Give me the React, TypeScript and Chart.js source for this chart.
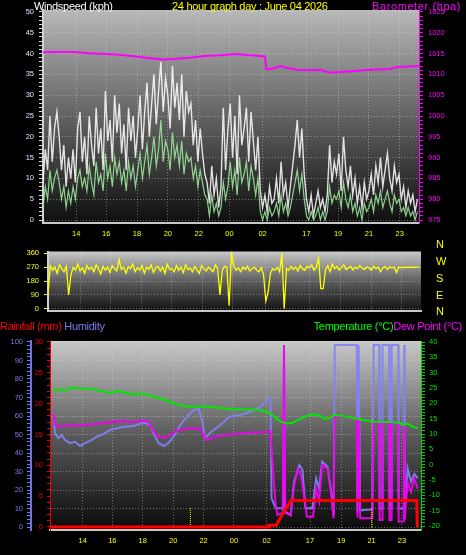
import React, { useEffect, useRef } from 'react';
import { Chart, registerables } from 'chart.js';

Chart.register(...registerables);

const FONT = "'Liberation Sans', Arial, sans-serif";

// ---------- axis ticks (hours since start of window) ----------
const tickHours = [2.15, 4.1, 6.1, 8.1, 10.1, 12.1, 14.25, 17.1, 19.15, 21.15, 23.15];
const tickLabels = ['14', '16', '18', '20', '22', '00', '02', '17', '19', '21', '23'];
const X_MAX = 24.4;

// ---------- wind (kph), one sample every windStep hours ----------
const windStep = 0.15;
const windGust = [
  9, 17, 12, 25, 14, 22, 26,
  20, 12, 18, 8, 15, 10, 17, 9, 22,
  26, 14, 20, 11, 25, 18, 13, 27, 16, 22, 12,
  31, 19, 24, 14, 30, 21, 28, 16, 23, 12, 27, 19, 25, 15,
  22, 30, 17, 26, 33, 20,
  28, 35, 23, 31, 38, 26, 34,
  30, 22, 37, 27, 33, 24, 35, 20, 31, 26,
  28, 18, 24, 14, 22, 16, 11,
  9, 4, 13, 6, 10,
  3, 8, 27, 12, 22,
  28, 15, 25, 11, 30, 18, 22, 27, 14, 26, 19, 12, 20,
  7, 3, 6, 2, 8, 4, 5,
  10, 4, 14, 6, 9, 3,
  8, 13, 18, 24, 15, 22, 11,
  5, 2, 6, 1, 4, 7, 3, 5, 2, 6,
  18, 9, 14, 11, 16, 7, 20, 12, 8, 13,
  6, 10, 4, 8, 3, 9, 5, 7,
  11, 6, 13, 9, 15, 8, 12, 16, 10, 7, 13, 9, 11,
  5, 8, 3, 7, 4, 6, 2, 5,
];
const windAvg = [
  3, 8, 5, 12, 7, 10, 12,
  9, 5, 8, 3, 7, 4, 8, 5, 10,
  12, 8, 10, 7, 13, 9, 6, 14, 9, 11, 7,
  16, 10, 13, 8, 15, 11, 14, 9, 12, 7, 14, 10, 13, 8,
  12, 16, 10, 14, 18, 11,
  15, 20, 13, 17, 24, 14, 19,
  17, 12, 21, 15, 18, 13, 19, 11, 16, 14,
  15, 10, 13, 8, 12, 9, 6,
  5, 1, 6, 2, 4,
  1, 3, 9, 5, 8,
  14, 8, 12, 6, 15, 9, 11, 14, 7, 13, 10, 6, 10,
  2, 0, 2, 0, 3, 1, 2,
  4, 1, 6, 2, 4, 1,
  3, 6, 9, 12, 7, 11, 5,
  1, 0, 2, 0, 1, 3, 0, 2, 0, 2,
  8, 4, 6, 5, 7, 3, 9, 5, 3, 6,
  2, 4, 1, 3, 0, 4, 2, 3,
  5, 2, 6, 4, 7, 3, 5, 7, 4, 2, 6, 4, 5,
  2, 3, 1, 3, 1, 2, 0, 2,
];

// ---------- wind direction (degrees), same sampling ----------
const windDir = [
  90, 280, 250, 270, 230, 285, 260, 240, 275, 90,
  220, 270, 250, 290, 245, 265, 230, 280, 255, 270,
  240, 285, 260, 225, 275, 250, 270, 235, 280, 260,
  245, 320, 255, 270, 230, 275, 260, 290, 240, 265,
  250, 280, 230, 270, 255, 285, 235, 265, 275, 245,
  270, 230, 290, 255, 260, 240, 280, 250, 270, 235,
  285, 255, 265, 240, 275, 250, 230, 280, 260, 245,
  270, 255, 240, 285, 260, 90, 250, 275, 270, 20,
  360, 280, 250, 265, 240, 270, 255, 275, 245, 260,
  270, 250, 240, 265, 220, 50, 110, 230, 260, 250,
  270, 240, 360, 0, 260, 250, 275, 255, 270, 245,
  280, 260, 250, 275, 265, 285, 250, 270, 330, 130,
  130, 250, 280, 240, 290, 260, 275, 250, 270, 285,
  255, 265, 275, 250, 270, 260, 280, 265, 255, 270,
  265, 250, 275, 260, 270, 240, 265, 275, 255, 270,
  265, 270, 235, 270, 265, 270, 268, 270, 268, 270,
  268, 270, 270,
];

// ---------- barometer (hPa) ----------
const baroTimes = [0, 1, 2, 3, 4, 5, 6, 7, 7.8, 8.5, 9.5, 10.5, 11.5, 12.5, 13.5, 14.4, 14.5, 15.0, 15.4, 15.8, 16.5, 17.5, 18.0, 18.6, 19.3, 20.2, 21.2, 22.5, 23.0, 24.4];
const baroValues = [1015.3, 1015.4, 1015.4, 1015.1, 1014.9, 1014.7, 1014.3, 1013.9, 1013.6, 1013.7, 1014.0, 1014.4, 1014.6, 1014.9, 1014.6, 1014.3, 1011.2, 1011.5, 1012.0, 1011.6, 1011.1, 1011.0, 1011.1, 1010.4, 1010.6, 1010.8, 1011.1, 1011.3, 1011.8, 1012.0];

// ---------- temperature (°C) ----------
const tempTimes = [0.22, 0.6, 1.1, 1.32, 1.7, 2.2, 2.85, 3.3, 3.74, 3.96, 4.4, 4.8, 5.3, 5.9, 6.1, 6.6, 7.25, 7.9, 8.4, 9.0, 9.9, 10.75, 11.4, 12.1, 12.7, 13.6, 14.05, 14.5, 14.7, 15.2, 15.6, 15.95, 16.3, 16.9, 17.35, 17.8, 18.0, 18.3, 18.7, 19.4, 19.8, 20.6, 21.3, 22.4, 22.9, 23.3, 23.5, 23.9, 24.2];
const tempValues = [24.3, 24.5, 24.2, 25.2, 25.0, 24.8, 24.6, 24.0, 23.8, 23.2, 24.0, 23.8, 23.0, 23.0, 23.3, 22.5, 21.6, 20.5, 19.6, 19.0, 19.0, 18.8, 18.3, 18.0, 18.0, 17.8, 17.5, 16.7, 15.8, 14.0, 13.4, 13.7, 14.5, 15.9, 16.4, 15.9, 15.0, 15.1, 16.2, 15.7, 15.4, 14.6, 14.0, 13.9, 13.7, 13.0, 13.5, 12.2, 12.0];

// ---------- dew point (°C) ----------
const dewTimes = [0.22, 0.33, 0.66, 1.1, 1.54, 2.2, 2.86, 3.52, 4.18, 4.84, 5.5, 6.16, 6.5, 6.7, 7.04, 7.5, 7.9, 8.35, 9.0, 9.9, 10.1, 10.3, 10.9, 12.07, 13.0, 14.0, 14.5, 14.6, 14.7, 14.84, 14.95, 15.3, 15.39, 15.47, 15.83, 16.05, 16.3, 16.5, 16.7, 16.9, 17.3, 17.5, 17.7, 17.9, 18.25, 18.5, 18.65, 18.73, 20.18, 20.22, 20.3, 20.4, 21.2, 21.28, 21.65, 21.68, 21.84, 21.87, 22.3, 22.33, 22.44, 22.47, 22.9, 22.93, 23.27, 23.3, 23.33, 23.45, 23.52, 23.74, 23.96, 24.18];
const dewValues = [16.5, 12.9, 12.3, 12.9, 12.6, 12.9, 13.2, 13.6, 13.9, 14.2, 13.9, 14.4, 13.9, 11.8, 9.3, 8.7, 9.6, 11.2, 11.8, 11.8, 9.6, 8.0, 9.1, 10.0, 10.3, 10.6, 10.9, 3.2, -3.5, -13, -16.4, -15.7, 39, -15.7, -16.5, -6.7, -1.3, -3.5, -10, -17, -17, -7.8, -12, -0.2, -1.3, -10, -17.5, 15.8, 15.2, -17.2, 15.0, -17.5, -17.5, 13.8, 13.7, -18, -18, 13.7, 13.6, -18, -18, 13.6, 13.4, -18.5, -18.5, 13, -18, -10, -5.6, -8.9, -4.5, -7.8];

// ---------- humidity (%) ----------
const humTimes = [0.22, 0.33, 0.55, 0.77, 0.99, 1.32, 1.65, 1.98, 2.3, 2.64, 3.08, 3.52, 3.96, 4.4, 4.84, 5.5, 6.16, 6.6, 6.8, 7.15, 7.5, 7.8, 8.13, 8.57, 9.0, 9.45, 9.78, 10.0, 10.2, 10.5, 11.2, 11.8, 12.5, 13.2, 13.85, 14.3, 14.5, 14.57, 14.84, 15.17, 15.35, 15.39, 15.47, 15.83, 16.05, 16.4, 16.6, 16.8, 17.26, 17.5, 17.7, 17.9, 18.25, 18.5, 18.65, 18.73, 20.18, 20.22, 20.3, 20.4, 21.2, 21.28, 21.65, 21.68, 21.84, 21.87, 22.3, 22.33, 22.44, 22.47, 22.9, 22.93, 23.27, 23.3, 23.33, 23.45, 23.52, 23.74, 23.96, 24.18];
const humValues = [60.5, 50.7, 48, 49.7, 47, 45.3, 46, 43.8, 45.3, 46.6, 48.8, 50.3, 52.4, 53.3, 54.2, 54.6, 56.4, 55, 50.7, 45.3, 43.8, 45.6, 48.8, 55.1, 59.6, 63.2, 64, 57.8, 48, 50.7, 55.1, 59.6, 60.5, 62.3, 65, 68.6, 69.9, 15.5, 10.1, 10.1, 10.1, 98.4, 8.3, 6.5, 24.5, 33.5, 30.9, 10.1, 10.1, 26.3, 20.9, 35.3, 32.6, 19.1, 6.5, 98.4, 98.4, 8.3, 98.4, 9, 9.5, 98.4, 98.4, 10, 10, 98.4, 98.4, 10, 10, 98.4, 98.4, 10, 10, 98.4, 10, 20, 31.7, 24.5, 28.7, 26.3];

// ---------- rainfall (mm) ----------
const rainTimes = [0, 14.35, 14.4, 14.9, 14.95, 15.83, 24.12, 24.16];
const rainValues = [0, 0, 0.3, 0.3, 0.6, 4.3, 4.3, 0];

// ---------- day markers (yellow dotted) ----------
const markerHours = [9.23, 21.17];
const markerHeight = 3.2; // mm on the rain axis

// ---------- helpers ----------
const GRID = 'rgba(225,225,225,0.42)';
const range = (a: number, b: number, s: number) => {
  const r: number[] = [];
  for (let v = a; v <= b + 1e-9; v += s) r.push(Math.round(v * 1000) / 1000);
  return r;
};
const isMajor = (v: number, m: number) => Math.abs(v / m - Math.round(v / m)) < 1e-6;
const pairs = (xs: number[], ys: number[]) => xs.map((x, i) => ({ x, y: ys[i] }));
const sampled = (ys: number[], step: number) => ys.map((y, i) => ({ x: Math.round(i * step * 1000) / 1000, y }));

function bgPlugin(stops: [number, string][]) {
  return {
    id: 'bgGradient',
    beforeDraw(chart: any) {
      const { ctx, chartArea: a } = chart;
      ctx.save();
      ctx.fillStyle = '#000';
      ctx.fillRect(0, 0, chart.width, chart.height);
      const g = ctx.createLinearGradient(0, a.top, 0, a.bottom);
      stops.forEach(([o, c]) => g.addColorStop(o, c));
      ctx.fillStyle = g;
      ctx.fillRect(a.left, a.top, a.right - a.left, a.bottom - a.top);
      ctx.restore();
    },
  };
}

function hourAxis(height: number, showLabels: boolean, pad: number) {
  return {
    type: 'linear',
    position: 'bottom',
    min: 0,
    max: X_MAX,
    bounds: 'data',
    afterBuildTicks: (s: any) => {
      s.ticks = tickHours.map((v) => ({ value: v }));
    },
    afterFit: (s: any) => {
      s.height = height;
    },
    ticks: {
      display: showLabels,
      autoSkip: false,
      maxRotation: 0,
      minRotation: 0,
      color: '#ffff00',
      font: { size: 7.5, family: FONT },
      padding: pad,
      callback: (_v: any, i: number) => tickLabels[i],
    },
    grid: { color: GRID, drawTicks: false },
    border: { display: true, color: '#c8c8c8', width: 2, dash: [1, 2] },
  };
}

interface VA {
  pos: 'left' | 'right';
  min: number;
  max: number;
  from: number;
  to: number;
  step: number;
  major: number;
  color: string;
  tickColor: string;
  width: number;
  tickLength: number;
  pad: number;
  grid: boolean;
  borderColor: string;
  borderWidth: number;
  weight?: number;
}
function valueAxis(o: VA) {
  return {
    type: 'linear',
    position: o.pos,
    min: o.min,
    max: o.max,
    bounds: 'data',
    weight: o.weight ?? 0,
    afterBuildTicks: (s: any) => {
      s.ticks = range(o.from, o.to, o.step).map((v) => ({ value: v }));
    },
    afterFit: (s: any) => {
      s.width = o.width;
    },
    ticks: {
      autoSkip: false,
      color: o.color,
      font: { size: 7.5, family: FONT },
      padding: o.pad,
      callback: (v: number) => (isMajor(v, o.major) ? String(v) : ''),
    },
    grid: {
      drawOnChartArea: o.grid,
      color: (c: any) => (c.tick && isMajor(c.tick.value, o.major) ? GRID : 'rgba(0,0,0,0)'),
      tickColor: o.tickColor,
      tickLength: o.tickLength,
      tickWidth: 1,
    },
    border: { display: true, color: o.borderColor, width: o.borderWidth, dash: [1, 2] },
  };
}

const line = (extra: any) => ({
  type: 'line',
  pointRadius: 0,
  pointHoverRadius: 0,
  tension: 0,
  fill: false,
  ...extra,
});

const baseOptions = (padding: any, scales: any) => ({
  responsive: false,
  animation: false,
  devicePixelRatio: 1,
  events: [],
  layout: { padding, autoPadding: false },
  plugins: { legend: { display: false }, tooltip: { enabled: false }, title: { display: false } },
  scales,
});

export default function App() {
  const c1 = useRef<HTMLCanvasElement>(null);
  const c2 = useRef<HTMLCanvasElement>(null);
  const c3 = useRef<HTMLCanvasElement>(null);

  useEffect(() => {
    const charts: Chart[] = [];

    // ---- top: wind speed & barometer ----
    charts.push(
      new Chart(c1.current as HTMLCanvasElement, {
        type: 'line',
        data: {
          datasets: [
            line({ data: pairs(baroTimes, baroValues), borderColor: '#ff00ff', borderWidth: 2, yAxisID: 'yB', order: 0 }),
            line({ data: sampled(windAvg, windStep), borderColor: 'rgba(160,240,160,0.85)', borderWidth: 1.2, yAxisID: 'yW', order: 1 }),
            line({ data: sampled(windGust, windStep), borderColor: 'rgba(255,255,255,0.85)', borderWidth: 1.4, yAxisID: 'yW', order: 2 }),
          ],
        },
        options: baseOptions({ top: 10, left: 0, right: 0, bottom: 0 }, {
          x: hourAxis(19, true, 6),
          yW: valueAxis({ pos: 'left', min: -0.72, max: 50.48, from: 0, to: 50, step: 1, major: 5, color: '#dfe6ff', tickColor: '#d8d8d8', width: 43, tickLength: 4, pad: 5, grid: true, borderColor: '#d0d0d0', borderWidth: 2 }),
          yB: valueAxis({ pos: 'right', min: 974.28, max: 1025.48, from: 975, to: 1025, step: 1, major: 5, color: '#ff00ff', tickColor: '#ff00ff', width: 47, tickLength: 4, pad: 5, grid: false, borderColor: '#ff00ff', borderWidth: 1 }),
        }),
        plugins: [bgPlugin([[0, '#b8b8b8'], [0.5, '#626262'], [1, '#0e0e0e']])],
      } as any)
    );

    // ---- middle: wind direction ----
    charts.push(
      new Chart(c2.current as HTMLCanvasElement, {
        type: 'line',
        data: {
          datasets: [
            line({ data: sampled(windDir, windStep), borderColor: '#ffff00', borderWidth: 1.3, yAxisID: 'yD' }),
          ],
        },
        options: baseOptions({ top: 2, left: 0, right: 45, bottom: 0 }, {
          x: hourAxis(8, false, 0),
          yD: valueAxis({ pos: 'left', min: -11.25, max: 371.25, from: 0, to: 360, step: 90, major: 90, color: '#ffff00', tickColor: '#ffff00', width: 48, tickLength: 4, pad: 5, grid: true, borderColor: '#d0d0d0', borderWidth: 2 }),
        }),
        plugins: [bgPlugin([[0, '#c8c8c8'], [0.5, '#5e5e5e'], [1, '#121212']])],
      } as any)
    );

    // ---- bottom: rain, humidity, temperature, dew point ----
    const markerData: any[] = [];
    markerHours.forEach((h) => {
      markerData.push({ x: h, y: 0 }, { x: h, y: markerHeight }, { x: h, y: null });
    });
    charts.push(
      new Chart(c3.current as HTMLCanvasElement, {
        type: 'line',
        data: {
          datasets: [
            line({ data: pairs(rainTimes, rainValues), borderColor: '#ff0000', borderWidth: 3, yAxisID: 'yR', order: 0 }),
            line({ data: markerData, borderColor: '#ffff00', borderWidth: 1, borderDash: [1, 1], yAxisID: 'yR', order: 0, spanGaps: false }),
            line({ data: pairs(tempTimes, tempValues), borderColor: '#00e800', borderWidth: 2, yAxisID: 'yT', order: 1 }),
            line({ data: pairs(dewTimes, dewValues), borderColor: 'rgba(240,0,240,0.95)', borderWidth: 2, yAxisID: 'yT', order: 2 }),
            line({ data: pairs(humTimes, humValues), borderColor: 'rgba(130,130,250,0.9)', borderWidth: 2, yAxisID: 'yH', order: 3 }),
          ],
        },
        options: baseOptions({ top: 21, left: 0, right: 0, bottom: 0 }, {
          x: hourAxis(25, true, 6),
          yR: valueAxis({ pos: 'left', weight: 0, min: -0.49, max: 30.16, from: 0, to: 30, step: 1, major: 5, color: '#ee0000', tickColor: '#ee0000', width: 19, tickLength: 3, pad: 4, grid: false, borderColor: '#ee0000', borderWidth: 1 }),
          yH: valueAxis({ pos: 'left', weight: 1, min: -1.62, max: 100.54, from: 0, to: 100, step: 2, major: 10, color: '#7b7bef', tickColor: '#7b7bef', width: 31, tickLength: 4, pad: 4, grid: true, borderColor: '#7070e8', borderWidth: 2 }),
          yT: valueAxis({ pos: 'right', min: -21.3, max: 40.33, from: -20, to: 40, step: 1, major: 5, color: '#00e000', tickColor: '#00d000', width: 45, tickLength: 4, pad: 4, grid: false, borderColor: '#00d000', borderWidth: 1 }),
        }),
        plugins: [bgPlugin([[0, '#c8c8c8'], [0.5, '#5a5a5a'], [1, '#0a0a0a']])],
      } as any)
    );

    return () => charts.forEach((c) => c.destroy());
  }, []);

  const txt = (extra: React.CSSProperties): React.CSSProperties => ({
    position: 'absolute',
    fontFamily: FONT,
    fontSize: '11px',
    lineHeight: '12px',
    whiteSpace: 'nowrap',
    letterSpacing: '-0.3px',
    zIndex: 2,
    ...extra,
  });
  const compass = ['N', 'W', 'S', 'E', 'N'];
  const compassTops = [238, 255, 272, 289, 305];

  return (
    <div style={{ position: 'absolute', left: 0, top: 0, width: 466, height: 555, background: '#000', overflow: 'hidden' }}>
      <canvas ref={c1} width={466} height={242} style={{ position: 'absolute', left: 0, top: 0 }} />
      <canvas ref={c2} width={466} height={78} style={{ position: 'absolute', left: 0, top: 242 }} />
      <canvas ref={c3} width={466} height={235} style={{ position: 'absolute', left: 0, top: 320 }} />

      <div style={txt({ left: 34, top: 0, color: '#ffffff' })}>Windspeed (kph)</div>
      <div style={txt({ left: 172, top: 0, color: '#ffff00' })}>24 hour graph day : June 04 2026</div>
      <div style={txt({ left: 372, top: 0, color: '#ff00ff', letterSpacing: '0.6px' })}>Barometer (hpa)</div>

      {compass.map((c, i) => (
        <div key={i} style={txt({ left: 436, top: compassTops[i], color: '#ffff00', letterSpacing: 0 })}>{c}</div>
      ))}

      <div style={txt({ left: 0, top: 320, color: '#ff0000' })}>
        Rainfall (mm) <span style={{ color: '#7b7bef' }}>Humidity</span>
      </div>
      <div style={txt({ right: 4, top: 320, color: '#00ff00' })}>
        Temperature (°C)<span style={{ color: '#ff00ff' }}>Dew Point (°C)</span>
      </div>
    </div>
  );
}
